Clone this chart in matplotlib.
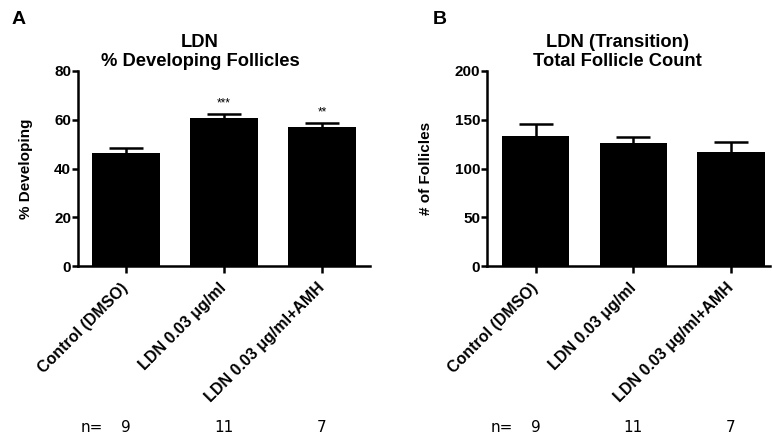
import matplotlib
matplotlib.use("Agg")
import matplotlib.pyplot as plt
import numpy as np

plt.rcParams['font.family'] = ['Liberation Sans', 'DejaVu Sans']

groups = ["Control (DMSO)", "LDN 0.03 \u03bcg/ml", "LDN 0.03 \u03bcg/ml+AMH"]
n_vals = ["9", "11", "7"]

dev_mean = [46.2, 60.8, 56.9]
dev_sem = [2.1, 1.4, 1.6]
dev_stars = ["", "***", "**"]

count_mean = [132.9, 126.4, 116.5]
count_sem = [13.0, 5.8, 10.9]

fig = plt.figure(figsize=(7.72, 4.41), dpi=100)
axA = fig.add_axes([78/772, 1-266/441, (370-78)/772, (266-71)/441])
axB = fig.add_axes([487/772, 1-266/441, (770-487)/772, (266-71)/441])

def draw_panel(ax, mean, sem, ylim, yticks, ylab, xlim, labx):
    x = np.arange(len(mean))
    ax.bar(x, mean, width=0.69, color='black', zorder=2)
    eb = ax.errorbar(x, mean, yerr=[np.zeros(len(sem)), sem], fmt='none', ecolor='black',
                     elinewidth=1.8, capsize=12, capthick=1.8, zorder=1)
    # only the upper cap
    eb[1][0].set_visible(False)
    ax.set_ylim(*ylim)
    ax.set_xlim(*xlim)
    ax.set_yticks(yticks)
    ax.set_xticks(x)
    ax.set_xticklabels(groups, rotation=45, ha='right', va='center', rotation_mode='anchor',
                       fontsize=11.5, fontweight='bold')
    for lab in ax.get_yticklabels():
        lab.set_fontweight('bold')
        lab.set_fontsize(11)
    ax.set_ylabel(ylab, fontsize=11, fontweight='bold')
    ax.yaxis.set_label_coords(labx, 0.5)
    for s in ['top', 'right']:
        ax.spines[s].set_visible(False)
    for s in ['left', 'bottom']:
        ax.spines[s].set_linewidth(1.8)
    ax.tick_params(width=1.8, length=4, pad=1)
    ax.tick_params(axis='x', length=5, pad=9)

draw_panel(axA, dev_mean, dev_sem, (0, 80), [0, 20, 40, 60, 80], "% Developing",
           (-0.49, 2.49), -0.154)
draw_panel(axB, count_mean, count_sem, (0, 200), [0, 50, 100, 150, 200], "# of Follicles",
           (-0.5, 2.4), -0.191)

for i, st in enumerate(dev_stars):
    if st:
        axA.text(i, dev_mean[i] + dev_sem[i] + 2.2, st, ha='center', va='bottom', fontsize=8.5)

fig.text(200/772, 1-52/441, "LDN\n% Developing Follicles", ha='center', va='center',
         fontsize=13.2, fontweight='bold', linespacing=1.15)
fig.text(617/772, 1-52/441, "LDN (Transition)\nTotal Follicle Count", ha='center', va='center',
         fontsize=13.2, fontweight='bold', linespacing=1.15)
fig.text(12/772, 1-20/441, "A", ha='left', va='center', fontsize=14, fontweight='bold')
fig.text(433/772, 1-20/441, "B", ha='left', va='center', fontsize=14, fontweight='bold')

# n= row under each panel
for ax in [axA, axB]:
    ax.text(-0.23, -0.83, "n=", transform=ax.get_xaxis_transform(), ha='right', va='center',
            fontsize=11, family=['Liberation Sans Narrow', 'DejaVu Sans'])
    for i, n in enumerate(n_vals):
        ax.text(i, -0.83, n, transform=ax.get_xaxis_transform(), ha='center', va='center',
                fontsize=11, family=['Liberation Sans Narrow', 'DejaVu Sans'])

fig.savefig("out.png", dpi=100)
